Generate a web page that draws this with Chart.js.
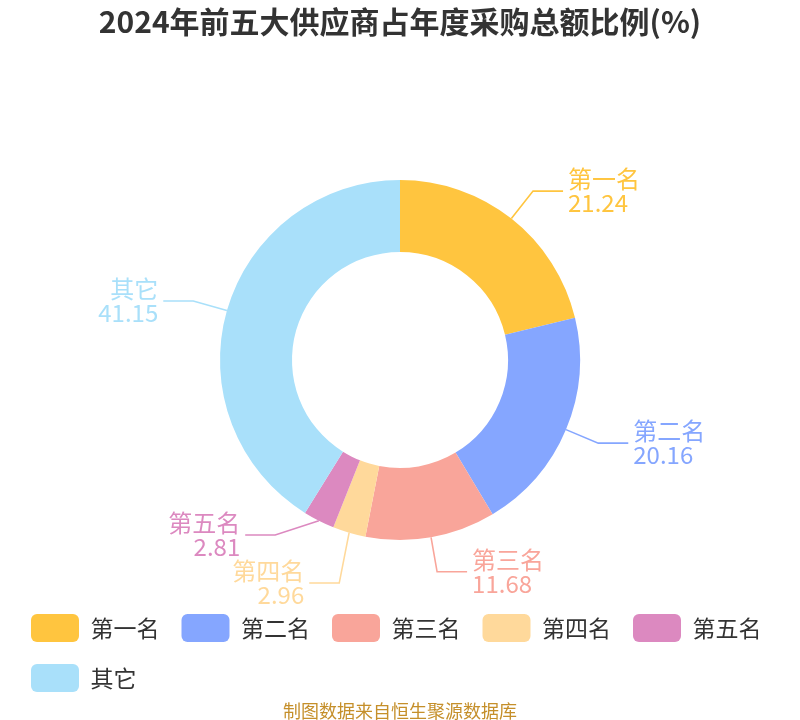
<!DOCTYPE html>
<html>
<head>
<meta charset="utf-8">
<title>2024年前五大供应商占年度采购总额比例</title>
<script src="https://cdn.jsdelivr.net/npm/chart.js"></script>
<style>
  html, body { margin: 0; padding: 0; background: #fff; }
  #wrap { width: 800px; height: 720px; }
</style>
</head>
<body>
<div id="wrap"><canvas id="myChart"></canvas></div>
<script>
var names = ["第一名", "第二名", "第三名", "第四名", "第五名", "其它"];
var shares = [21.24, 20.16, 11.68, 2.96, 2.81, 41.15];
var colors = ["#FFC53F", "#85A6FF", "#F9A59A", "#FFD99B", "#DC89C0", "#A9E0FA"];

var fontFamily = '"Noto Sans CJK SC", "Noto Sans", sans-serif';
Chart.defaults.font.family = fontFamily;

// labels outside the ring with a two-part leader line
var outsideLabels = {
  id: 'outsideLabels',
  afterDatasetsDraw: function (chart) {
    var ctx = chart.ctx;
    var arcs = chart.getDatasetMeta(0).data;
    var len1 = 35, len2 = 30, gap = 5, minGap = 48;
    var items = [];
    arcs.forEach(function (arc, i) {
      var p = arc.getProps(['x', 'y', 'startAngle', 'endAngle', 'outerRadius'], true);
      var mid = (p.startAngle + p.endAngle) / 2;
      var c = Math.cos(mid), s = Math.sin(mid);
      var R = p.outerRadius + len1;
      items.push({
        i: i, cx: p.x, cy: p.y, R: R, dir: c >= 0 ? 1 : -1,
        x1: p.x + c * p.outerRadius, y1: p.y + s * p.outerRadius,
        x2: p.x + c * R, y2: p.y + s * R, moved: false
      });
    });

    [1, -1].forEach(function (dir) {
      var side = items.filter(function (it) { return it.dir === dir; })
                      .sort(function (a, b) { return a.y2 - b.y2; });
      for (var k = 1; k < side.length; k++) {
        var d = side[k].y2 - side[k - 1].y2;
        if (d < minGap) {
          var sh = (minGap - d) / 2;
          side[k - 1].y2 -= sh;
          side[k].y2 += sh;
          side[k - 1].moved = side[k].moved = true;
        }
      }
      side.forEach(function (it) {
        if (!it.moved) return;
        var dy = it.y2 - it.cy;
        if (Math.abs(dy) < it.R) it.x2 = it.cx + dir * Math.sqrt(it.R * it.R - dy * dy);
      });
    });

    ctx.save();
    items.forEach(function (it) {
      var col = colors[it.i];
      var x3 = it.x2 + it.dir * len2;
      ctx.beginPath();
      ctx.moveTo(it.x1, it.y1);
      ctx.lineTo(it.x2, it.y2);
      ctx.lineTo(x3, it.y2);
      ctx.lineWidth = 1.6;
      ctx.strokeStyle = col;
      ctx.stroke();

      ctx.fillStyle = col;
      ctx.font = '24px ' + fontFamily;
      ctx.textAlign = it.dir > 0 ? 'left' : 'right';
      ctx.textBaseline = 'middle';
      var tx = x3 + it.dir * gap;
      ctx.fillText(names[it.i], tx, it.y2 - 12);
      ctx.fillText(shares[it.i].toFixed(2), tx, it.y2 + 12);
    });
    ctx.restore();
  }
};

var myChart = new Chart(document.getElementById('myChart'), {
  type: 'doughnut',
  data: {
    labels: names,
    datasets: [{
      data: shares,
      backgroundColor: colors,
      borderWidth: 0,
      hoverOffset: 0
    }]
  },
  options: {
    responsive: true,
    maintainAspectRatio: false,
    animation: false,
    radius: 180,
    cutout: '60%',
    layout: { padding: { left: 9, right: 9, top: 0, bottom: 0 } },
    plugins: {
      title: {
        display: true,
        text: '2024年前五大供应商占年度采购总额比例(%)',
        color: '#333333',
        font: { size: 30, weight: 'bold' },
        padding: { top: 4, bottom: 88 }
      },
      subtitle: {
        display: true,
        position: 'bottom',
        text: '制图数据来自恒生聚源数据库',
        color: '#C58F2A',
        font: { size: 18, lineHeight: 1 },
        padding: { top: 0, bottom: 0 }
      },
      legend: {
        position: 'bottom',
        align: 'start',
        labels: {
          boxWidth: 48,
          boxHeight: 28,
          useBorderRadius: true,
          borderRadius: 6,
          padding: 22,
          color: '#333333',
          font: { size: 23 }
        }
      },
      tooltip: { enabled: false }
    }
  },
  plugins: [outsideLabels]
});
</script>
</body>
</html>
